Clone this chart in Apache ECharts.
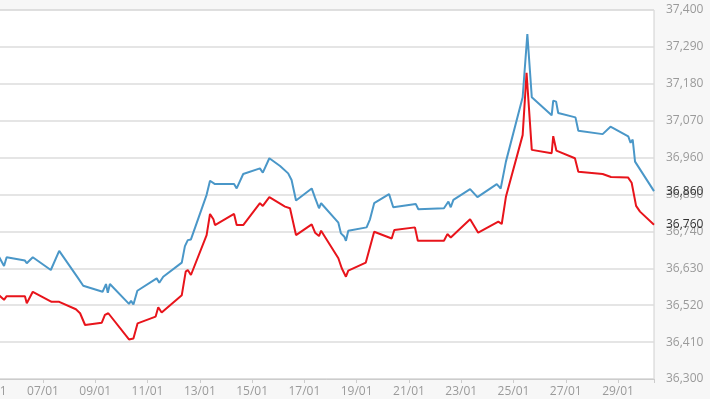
<!DOCTYPE html>
<html>
<head>
<meta charset="utf-8">
<script src="https://cdn.jsdelivr.net/npm/echarts@6/dist/echarts.min.js"></script>
<style>
  html, body { margin: 0; padding: 0; background: #f7f7f7; }
  #chart { width: 710px; height: 399px; }
</style>
</head>
<body>
<div id="chart"></div>
<script>
// x positions are days of January (fractional), values are prices
let blueDays = [5.32, 5.51, 5.61, 6.31, 6.38, 6.61, 7.30, 7.62, 8.35, 8.54, 9.28, 9.41, 9.48, 9.56,
  10.29, 10.37, 10.46, 10.61, 11.35, 11.45, 11.60, 12.31, 12.43, 12.54, 12.66, 13.26, 13.39, 13.58,
  14.31, 14.41, 14.66, 15.30, 15.41, 15.66, 16.07, 16.38, 16.51, 16.68, 17.28, 17.41, 17.56, 17.64,
  18.30, 18.40, 18.53, 18.59, 18.68, 19.38, 19.51, 19.67, 20.24, 20.40, 21.26, 21.36, 22.34, 22.51,
  22.60, 22.70, 23.34, 23.62, 24.36, 24.51, 24.71, 25.35, 25.53, 25.70, 26.46, 26.52, 26.63, 26.71,
  27.37, 27.48, 28.41, 28.71, 29.39, 29.48, 29.56, 29.65, 30.375];
let blueValues = [36664, 36637, 36663, 36653, 36645, 36663, 36625, 36682, 36600, 36578, 36560, 36583, 36557, 36583,
  36524, 36533, 36522, 36563, 36600, 36587, 36605, 36647, 36696, 36714, 36716, 36849, 36891, 36881,
  36881, 36868, 36911, 36928, 36915, 36958, 36935, 36913, 36893, 36832, 36868, 36840, 36809, 36824,
  36766, 36734, 36724, 36712, 36742, 36752, 36776, 36824, 36851, 36812, 36822, 36806, 36809, 36829,
  36812, 36834, 36866, 36842, 36881, 36868, 36948, 37140, 37328, 37140, 37086, 37130, 37127, 37093,
  37080, 37040, 37030, 37052, 37023, 37004, 37014, 36948, 36860];

let redDays = [5.32, 5.51, 5.61, 6.31, 6.38, 6.61, 7.33, 7.62, 8.26, 8.42, 8.61, 9.25, 9.37, 9.50,
  10.29, 10.46, 10.62, 11.31, 11.41, 11.54, 12.31, 12.46, 12.54, 12.66, 13.26, 13.39, 13.52, 13.58,
  14.31, 14.41, 14.66, 15.30, 15.41, 15.66, 16.26, 16.45, 16.68, 17.28, 17.41, 17.56, 17.64,
  18.30, 18.43, 18.59, 18.68, 19.35, 19.67, 20.34, 20.44, 21.23, 21.34, 22.34, 22.47, 22.60,
  23.34, 23.65, 24.42, 24.55, 24.71, 25.35, 25.50, 25.70, 26.46, 26.52, 26.64, 27.35, 27.48,
  28.41, 28.73, 29.38, 29.52, 29.69, 29.84, 30.375];
let redValues = [36550, 36536, 36547, 36547, 36526, 36560, 36530, 36530, 36508, 36496, 36461, 36468, 36491, 36496,
  36418, 36421, 36466, 36486, 36514, 36498, 36550, 36620, 36625, 36610, 36729, 36792, 36776, 36759,
  36792, 36759, 36759, 36824, 36816, 36842, 36814, 36809, 36729, 36761, 36736, 36726, 36742,
  36660, 36630, 36605, 36623, 36647, 36739, 36719, 36744, 36752, 36712, 36712, 36732, 36722,
  36776, 36736, 36769, 36762, 36843, 37027, 37213, 36983, 36973, 37024, 36981, 36958, 36918,
  36911, 36902, 36901, 36885, 36816, 36799, 36760];

// y axis ticks
let yMin = 36300;
let yMax = 37400;
let yStep = 110;

// axis works in hours since 01/01 00:00 so 2-day ticks land on odd days
function toHours(d) { return (d - 1) * 24; }
function pairs(days, values) {
  return days.map((d, i) => [toHours(d), values[i]]);
}
function fmt(v) {
  return String(v).replace(/\B(?=(\d{3})+(?!\d))/g, ',');
}

let chart = echarts.init(document.getElementById('chart'));

chart.setOption({
  animation: false,
  backgroundColor: '#f7f7f7',
  textStyle: { fontFamily: 'Open Sans' },
  grid: {
    left: -9.3,
    right: 56,
    top: 10,
    bottom: 20,
    outerBoundsMode: 'none',
    containLabel: false,
    show: true,
    backgroundColor: '#ffffff',
    borderColor: '#d0d0d0',
    borderWidth: 1
  },
  xAxis: {
    type: 'value',
    min: toHours(5),
    max: toHours(30.375),
    interval: 48,
    splitLine: { show: false },
    axisLine: { lineStyle: { color: '#cccccc' } },
    axisTick: { length: 4, lineStyle: { color: '#cccccc' } },
    axisLabel: {
      color: '#9a9a9a',
      fontSize: 12,
      margin: 7,
      formatter: v => {
        if (v % 48 !== 0) return '';
        let d = v / 24 + 1;
        return (d < 10 ? '0' + d : d) + '/01';
      }
    }
  },
  yAxis: {
    type: 'value',
    position: 'right',
    min: yMin,
    max: yMax,
    interval: yStep,
    axisLine: { show: false },
    axisTick: { show: false },
    splitLine: { lineStyle: { color: '#dcdcdc', width: 1.5 } },
    axisLabel: {
      color: '#9a9a9a',
      fontSize: 12,
      margin: 12,
      formatter: v => fmt(v)
    }
  },
  series: [
    {
      name: 'high',
      type: 'line',
      data: pairs(blueDays, blueValues),
      showSymbol: false,
      lineStyle: { color: '#4a97c8', width: 2 },
      itemStyle: { color: '#4a97c8' },
      endLabel: {
        show: true,
        distance: 12,
        color: '#333333',
        fontSize: 12,
        formatter: p => fmt(p.value[1])
      }
    },
    {
      name: 'low',
      type: 'line',
      data: pairs(redDays, redValues),
      showSymbol: false,
      lineStyle: { color: '#e8141b', width: 2 },
      itemStyle: { color: '#e8141b' },
      endLabel: {
        show: true,
        distance: 12,
        color: '#333333',
        fontSize: 12,
        formatter: p => fmt(p.value[1])
      }
    }
  ]
});
</script>
</body>
</html>
